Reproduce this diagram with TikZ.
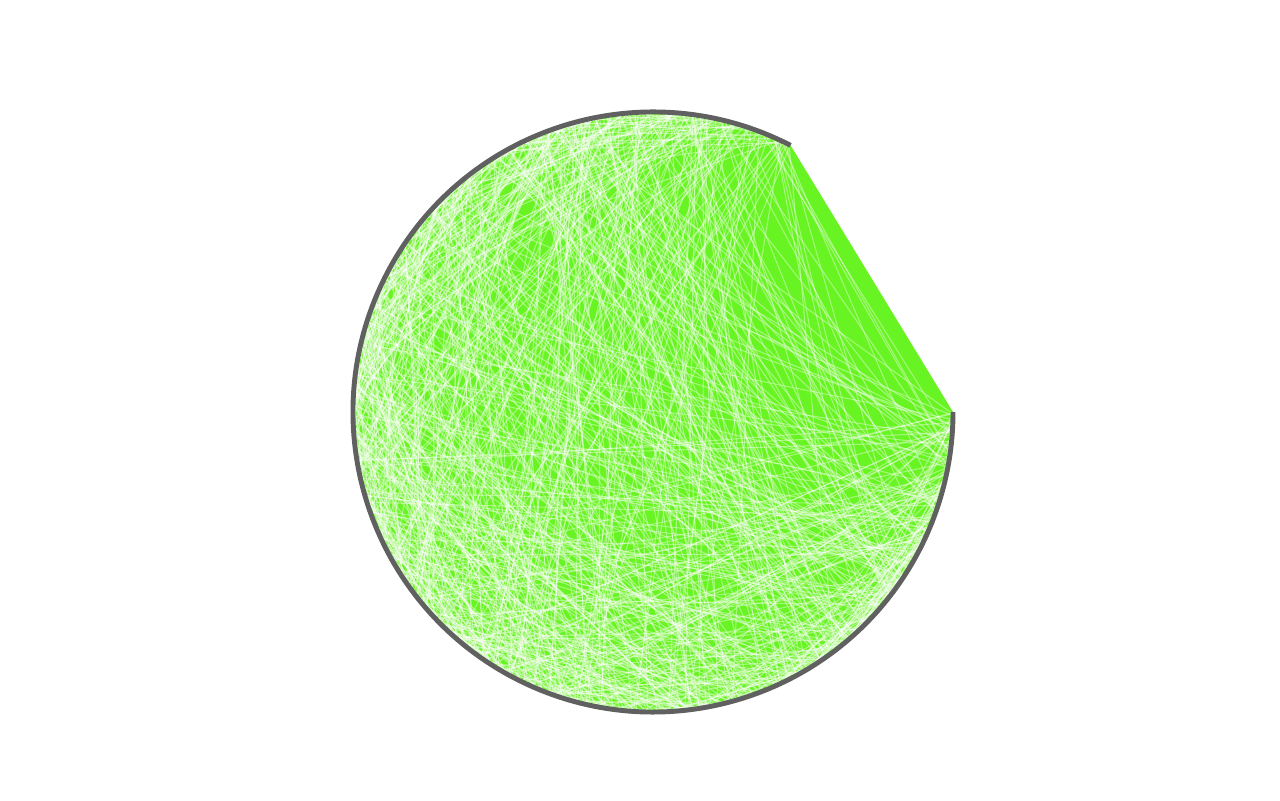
\documentclass[tikz,border=0pt]{standalone}
\usetikzlibrary{calc}
\definecolor{chordgreen}{RGB}{104,244,34}
\definecolor{rimgray}{RGB}{96,96,96}
\tikzset{
  chord/.style={white,line width=0.3pt,opacity=0.4},
  rim/.style={rimgray,line width=1.4pt},
}
\begin{document}
\begin{tikzpicture}
\useasboundingbox (0,0) rectangle (12.8,8);
\coordinate (c) at (6.53,3.88);
\def\R{3}
\def\amin{62.7}
\fill[chordgreen] ($(c)+(\amin:\R)$) arc[start angle=\amin,end angle=360,radius=\R] -- cycle;
\pgfmathsetseed{7}
\foreach \i in {1,...,750}{
  \pgfmathsetmacro\aa{\amin+rnd*(360-\amin)}
  \pgfmathsetmacro\bb{\amin+rnd*(360-\amin)}
  \draw[chord] ($(c)+(\aa:\R)$) -- ($(c)+(\bb:\R)$);
}
\draw[rim] ($(c)+(\amin:\R)$) arc[start angle=\amin,end angle=360,radius=\R];
\end{tikzpicture}
\end{document}
